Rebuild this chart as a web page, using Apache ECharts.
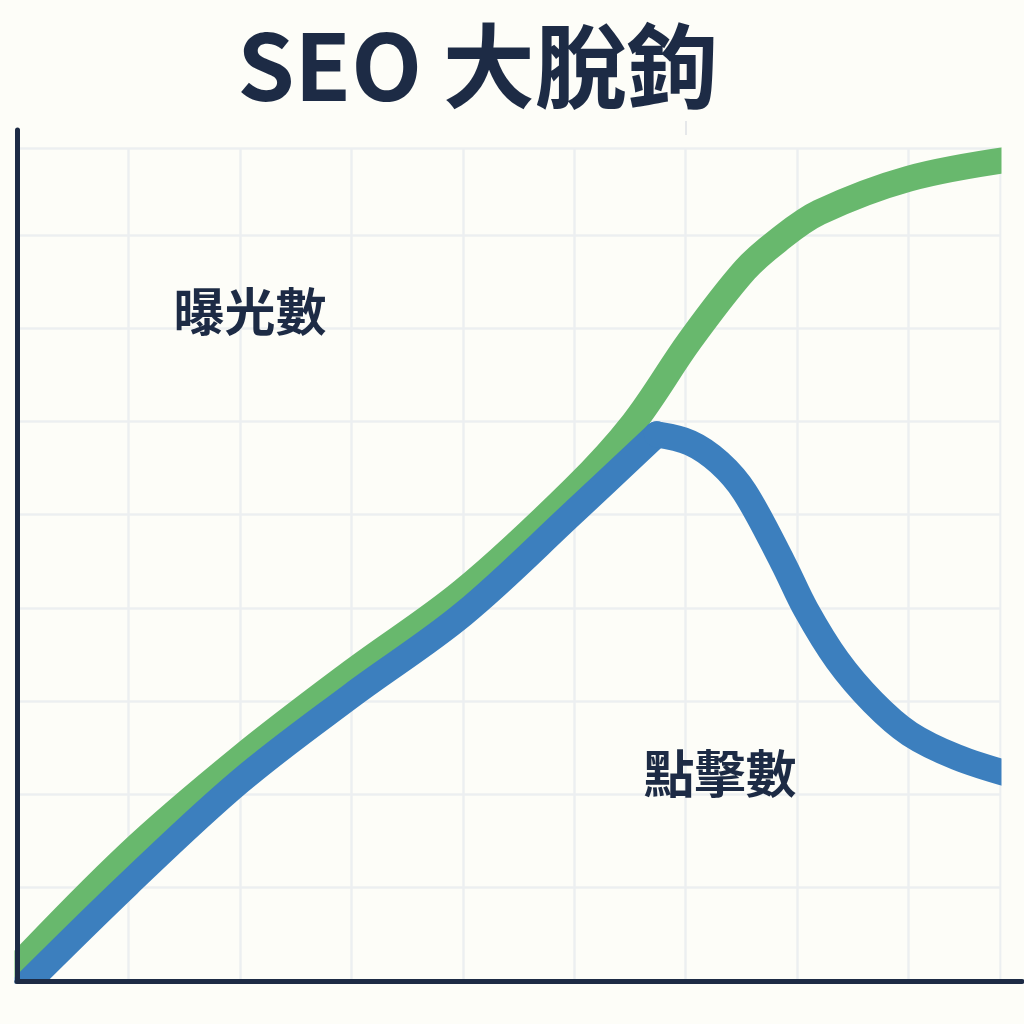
<!DOCTYPE html>
<html>
<head>
<meta charset="utf-8">
<script src="https://cdn.jsdelivr.net/npm/echarts@6/dist/echarts.min.js"></script>
<style>
  html, body { margin: 0; padding: 0; background: #fdfdf8; }
  #main { width: 1024px; height: 1024px; }
</style>
</head>
<body>
<div id="main"></div>
<script>
// 曝光數 (impressions)
var imprX = [-1, 10, 20, 30, 40, 50, 55.3, 60.4, 65.3, 68.3, 72.0, 80, 89.2];
var imprY = [0.3, 13.6, 23.9, 33.1, 41.8, 52.8, 59.8, 68.7, 76.2, 79.4, 82.4, 86.0, 88.1];
// 點擊數 (clicks) - rise up to the peak, then fall after it
var clickUpX = [-1, 10, 20, 30, 40, 50, 57.4];
var clickUpY = [-2.5, 10.4, 21.4, 30.6, 39.3, 50.3, 58.6];
var clickDownX = [57.4, 60.4, 63.0, 65.3, 68.7, 70.8, 73.6, 76.8, 80.1, 84.3, 89.2];
var clickDownY = [58.6, 57.7, 55.6, 52.4, 44.9, 39.8, 34.4, 29.9, 26.5, 24.0, 22.1];

var titleText = 'SEO 大脫鉤';
var imprLabel = '曝光數';
var clickLabel = '點擊數';

function zip(xs, ys) {
    return xs.map(function (x, i) { return [x, ys[i]]; });
}

var bg = '#fdfdf8';
var navy = '#1d2b45';
var green = '#68b86d';
var blue = '#3c7fbe';
var cjk = '"Noto Sans CJK TC", "Noto Sans CJK SC", sans-serif';

var myChart = echarts.init(document.getElementById('main'));

var lineBase = {
    type: 'line',
    xAxisIndex: 0,
    yAxisIndex: 0,
    showSymbol: false,
    symbol: 'none',
    clip: true,
    smooth: 0.35
};

option = {
    backgroundColor: bg,
    animation: false,
    grid: [
        {left: 17, right: 24, top: 148, bottom: 43},
        {left: 17, right: 2, top: 130, bottom: 43}
    ],
    xAxis: [
        {
            type: 'value', gridIndex: 0, min: 0, max: 88.2, interval: 10,
            axisLine: {show: false}, axisTick: {show: false}, axisLabel: {show: false},
            splitLine: {show: true, lineStyle: {color: '#eceff1', width: 2.5}}
        },
        {
            type: 'value', gridIndex: 1, min: 0, max: 1, position: 'bottom', z: 60,
            axisLine: {show: true, onZero: false, lineStyle: {color: navy, width: 5}},
            axisTick: {show: false}, axisLabel: {show: false}, splitLine: {show: false}
        }
    ],
    yAxis: [
        {
            type: 'value', gridIndex: 0, min: 0, max: 89.3, interval: 10,
            axisLine: {show: false}, axisTick: {show: false}, axisLabel: {show: false},
            splitLine: {show: true, lineStyle: {color: '#eceff1', width: 2.5}}
        },
        {
            type: 'value', gridIndex: 1, min: 0, max: 1, position: 'left', z: 60,
            axisLine: {show: true, onZero: false, lineStyle: {color: navy, width: 5}},
            axisTick: {show: false}, axisLabel: {show: false}, splitLine: {show: false}
        }
    ],
    series: [
        Object.assign({}, lineBase, {
            name: imprLabel,
            data: zip(imprX, imprY),
            lineStyle: {color: green, width: 26, cap: 'butt'}
        }),
        Object.assign({}, lineBase, {
            name: clickLabel,
            data: zip(clickUpX, clickUpY),
            lineStyle: {color: blue, width: 26, cap: 'round'}
        }),
        Object.assign({}, lineBase, {
            name: clickLabel,
            data: zip(clickDownX, clickDownY),
            lineStyle: {color: blue, width: 26, cap: 'round'}
        })
    ],
    graphic: [
        // trim the line ends so they stop square at the plot edges
        {type: 'rect', z: 50, silent: true, shape: {x: 0, y: 0, width: 14.5, height: 1024}, style: {fill: bg}},
        {type: 'rect', z: 50, silent: true, shape: {x: 0, y: 983.5, width: 1024, height: 41}, style: {fill: bg}},
        {type: 'rect', z: 50, silent: true, shape: {x: 1001.5, y: 0, width: 23, height: 1024}, style: {fill: bg}},
        {
            type: 'text', x: 478, y: 66, z: 100,
            style: {text: titleText, fill: navy, font: 'bold 92px ' + cjk, align: 'center', verticalAlign: 'middle'}
        },
        {
            type: 'text', x: 250, y: 312, z: 100,
            style: {text: imprLabel, fill: navy, font: 'bold 51px ' + cjk, align: 'center', verticalAlign: 'middle'}
        },
        {
            type: 'text', x: 720, y: 774, z: 100,
            style: {text: clickLabel, fill: navy, font: 'bold 51px ' + cjk, align: 'center', verticalAlign: 'middle'}
        },
        {
            type: 'line', z: 100, shape: {x1: 686, y1: 121, x2: 686, y2: 135},
            style: {stroke: '#e6e8ea', lineWidth: 2}
        }
    ]
};
myChart.setOption(option);
</script>
</body>
</html>
